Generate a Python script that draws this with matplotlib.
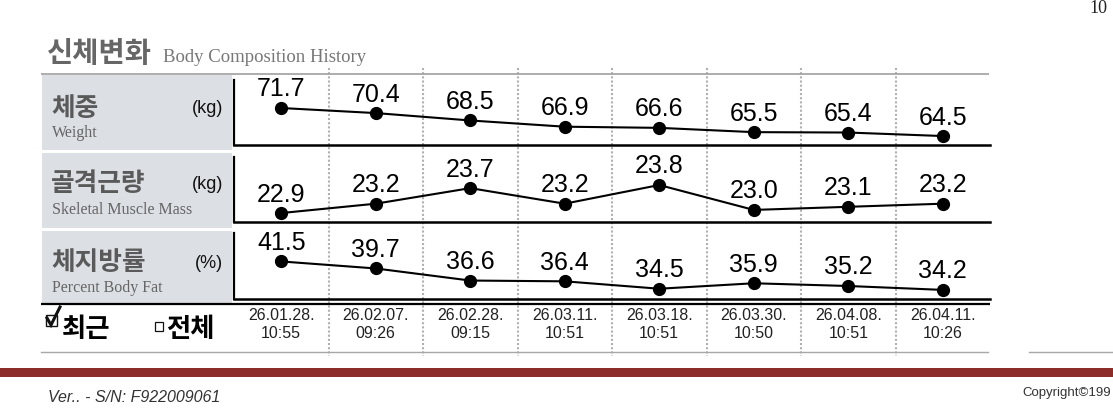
import matplotlib
matplotlib.use("Agg")
import matplotlib.pyplot as plt
from matplotlib.transforms import blended_transform_factory
from matplotlib.patches import Rectangle

# ---------------- data ----------------
dates = ["26.01.28.", "26.02.07.", "26.02.28.", "26.03.11.",
         "26.03.18.", "26.03.30.", "26.04.08.", "26.04.11."]
times = ["10:55", "09:26", "09:15", "10:51", "10:51", "10:50", "10:51", "10:26"]
weight = [71.7, 70.4, 68.5, 66.9, 66.6, 65.5, 65.4, 64.5]
smm = [22.9, 23.2, 23.7, 23.2, 23.8, 23.0, 23.1, 23.2]
pbf = [41.5, 39.7, 36.6, 36.4, 34.5, 35.9, 35.2, 34.2]
kr_names = ["체중", "골격근량", "체지방률"]
en_names = ["Weight", "Skeletal Muscle Mass", "Percent Body Fat"]
units = ["(kg)", "(kg)", "(%)"]

W, H = 1113, 415
fig = plt.figure(figsize=(W / 100, H / 100), dpi=100)
fig.patch.set_facecolor("white")

KR = ["Noto Sans CJK KR", "DejaVu Sans"]
SANS = ["Liberation Sans", "DejaVu Sans"]
SERIF = ["Liberation Serif", "DejaVu Serif"]

# overlay in pixel coordinates
ov = fig.add_axes([0, 0, 1, 1])
ov.set_xlim(0, W)
ov.set_ylim(H, 0)
ov.axis("off")

# title
ov.text(47, 62, "신체변화", family=KR, fontsize=20.5, fontweight="bold",
        color="#666666", va="baseline")
ov.text(163, 62, "Body Composition History", family=SERIF, fontsize=13.5,
        color="#777777", va="baseline")
ov.text(1089, 13, "10", family=SERIF, fontsize=13, color="#222222", va="baseline")

# top gray line
ov.plot([41, 989], [74, 74], color="#a0a0a0", lw=1.2, solid_capstyle="butt")

# label boxes
boxes = [(75, 150), (153, 228), (231, 303)]
for (t, b) in boxes:
    ov.add_patch(Rectangle((42, t), 190, b - t, facecolor="#dcdfe4",
                           edgecolor="none", zorder=0))

kr_base = [116, 191, 270]
en_base = [137, 214, 292]
unit_base = [113, 189, 268]
for i in range(3):
    ov.text(51, kr_base[i], kr_names[i], family=KR, fontsize=18.5,
            fontweight="bold", color="#5a5a5a", va="baseline")
    ov.text(52, en_base[i], en_names[i], family=SERIF, fontsize=11.5,
            color="#666666", va="baseline")
    ov.text(223, unit_base[i], units[i], family=SANS, fontsize=13,
            color="#111111", va="baseline", ha="right")

# panels
panels = [(80, 145, weight), (157, 222, smm), (233, 299, pbf)]
axes = []
for (t, b, vals) in panels:
    ax = fig.add_axes([234 / W, 1 - b / H, (990 - 234) / W, (b - t) / H])
    ax.set_facecolor("none")
    x = list(range(len(vals)))
    ax.plot(x, vals, color="black", lw=1.5, marker="o", markersize=8.5,
            zorder=3, clip_on=False)
    lo, hi = min(vals), max(vals)
    r = hi - lo
    ax.set_ylim(lo - 0.32 * r, hi + 1.0 * r)
    ax.set_xlim(-0.5, len(vals) - 0.5)
    for xi, v in zip(x, vals):
        ax.annotate(f"{v:.1f}", (xi, v), xytext=(0, 8.3),
                    textcoords="offset points", ha="center", va="baseline",
                    family=SANS, fontsize=18, color="black", annotation_clip=False)
    for s in ["top", "right"]:
        ax.spines[s].set_visible(False)
    ax.spines["left"].set_linewidth(1.6)
    ax.spines["bottom"].set_linewidth(1.8)
    ax.set_xticks([])
    ax.set_yticks([])
    axes.append(ax)

# double bottom line
ov.plot([41, 990], [303.5, 303.5], color="black", lw=1.6, solid_capstyle="butt")

# dotted column separators
tr = blended_transform_factory(axes[0].transData, ov.transData)
for i in range(len(dates) - 1):
    ov.plot([i + 0.5, i + 0.5], [68, 356], transform=tr, color="#b0b0b0",
            lw=1.5, linestyle=(0, (1, 1)), zorder=1)

# date labels
for i in range(len(dates)):
    ov.text(i, 320, dates[i], transform=tr, ha="center", va="baseline",
            family=SANS, fontsize=11.5, color="#222222")
    ov.text(i, 338, times[i], transform=tr, ha="center", va="baseline",
            family=SANS, fontsize=11.5, color="#222222")

# check boxes
ov.add_patch(Rectangle((45.5, 315), 11, 11, facecolor="white",
                       edgecolor="#111111", lw=1.0))
ov.plot([47, 51, 60], [318, 325, 307], color="#111111", lw=2.2,
        solid_joinstyle="miter")
ov.text(62, 337, "최근", family=KR, fontsize=19, fontweight="bold",
        color="black", va="baseline")
ov.add_patch(Rectangle((155, 322), 8, 8.5, facecolor="white",
                       edgecolor="#111111", lw=0.9))
ov.text(166, 337, "전체", family=KR, fontsize=19, fontweight="bold",
        color="black", va="baseline")

# bottom gray line
ov.plot([41, 988], [351.5, 351.5], color="#a8a8a8", lw=1.0)
ov.plot([1029, W], [351.5, 351.5], color="#a8a8a8", lw=1.0)

# red band
ov.add_patch(Rectangle((0, 368), W, 9, facecolor="#8c2d29", edgecolor="none"))

# footer
ov.text(48, 402, "Ver.. - S/N: F922009061", family=SANS, fontsize=11.5,
        style="italic", color="#333333", va="baseline")
ov.text(1022, 396, "Copyright©199", family=SANS,
        fontsize=9.5, color="#333333", va="baseline")

fig.savefig("out.png", dpi=100, facecolor="white")
